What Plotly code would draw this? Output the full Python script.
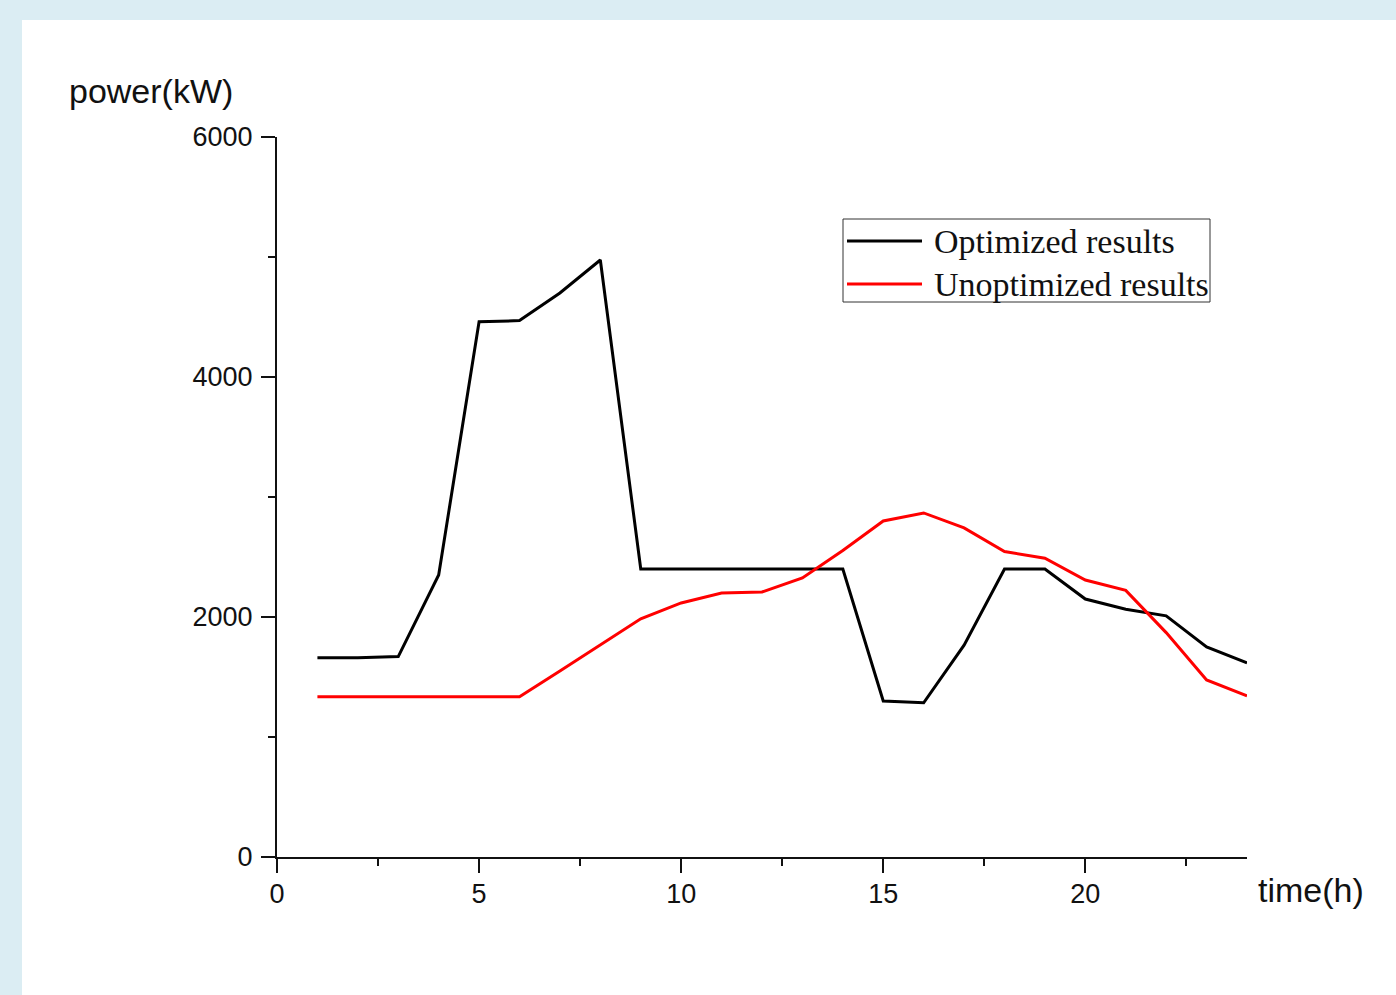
import plotly.graph_objects as go

hours = list(range(1, 25))
optimized = [1660, 1660, 1670, 2350, 4460, 4470, 4700, 4975, 2400, 2400, 2400, 2400,
             2400, 2400, 1300, 1285, 1765, 2400, 2400, 2150, 2065, 2010, 1750, 1617]
unoptimized = [1335, 1335, 1335, 1335, 1335, 1335, 1550, 1770, 1985, 2117, 2200, 2208,
               2325, 2555, 2800, 2867, 2742, 2545, 2490, 2308, 2222, 1870, 1475, 1342]

x_ticks = [0, 5, 10, 15, 20]
y_ticks = [0, 2000, 4000, 6000]
legend_names = ["Optimized results", "Unoptimized results"]
colors = ["#000000", "#ff0000"]

L, R, T, B = 277, 149, 137, 138
W, H = 1396, 995
pw, ph = W - L - R, H - T - B

def px(x):
    return (x - L) / pw

def py(y):
    return (H - B - y) / ph

fig = go.Figure()
for name, ys, c in zip(legend_names, [optimized, unoptimized], colors):
    fig.add_trace(go.Scatter(x=hours, y=ys, mode="lines", name=name,
                             line=dict(color=c, width=3), showlegend=False))

shapes = [
    dict(type="rect", xref="paper", yref="paper", x0=px(22), x1=px(1400), y0=py(1000), y1=py(20),
         fillcolor="white", line=dict(width=0), layer="below"),
    dict(type="rect", xref="paper", yref="paper", x0=px(843), x1=px(1210), y0=py(302), y1=py(219),
         fillcolor="rgba(0,0,0,0)", line=dict(color="#333333", width=1)),
]
annotations = [
    dict(text="power(kW)", x=px(67), y=py(91), xref="paper", yref="paper", xanchor="left",
         yanchor="middle", showarrow=False, font=dict(family="Liberation Sans, Arial", size=34, color="#111")),
    dict(text="time(h)", x=px(1256), y=py(890), xref="paper", yref="paper", xanchor="left",
         yanchor="middle", showarrow=False, font=dict(family="Liberation Sans, Arial", size=34, color="#111")),
]
for i, (name, c) in enumerate(zip(legend_names, colors)):
    yy = py(241 + 43 * i)
    shapes.append(dict(type="line", xref="paper", yref="paper", x0=px(847), x1=px(922), y0=yy, y1=yy,
                       line=dict(color=c, width=3)))
    annotations.append(dict(text=name, x=px(932), y=yy, xref="paper", yref="paper", xanchor="left",
                            yanchor="middle", showarrow=False,
                            font=dict(family="Liberation Serif, Times New Roman", size=34, color="#111")))

fig.update_layout(
    width=W, height=H,
    margin=dict(l=L, r=R, t=T, b=B),
    paper_bgcolor="#dbedf3",
    plot_bgcolor="rgba(0,0,0,0)",
    shapes=shapes,
    annotations=annotations,
    showlegend=False,
    font=dict(family="Liberation Sans, Arial", size=27, color="#111"),
)
fig.update_xaxes(range=[0, 24], tickvals=x_ticks, ticks="outside", ticklen=14, tickwidth=2,
                 tickcolor="#111", showline=True, linecolor="#111", linewidth=2, showgrid=False,
                 zeroline=False, ticklabelstandoff=-2,
                 minor=dict(tickvals=[2.5, 7.5, 12.5, 17.5, 22.5], ticks="outside", ticklen=7,
                            tickwidth=2, tickcolor="#111"))
fig.update_yaxes(range=[0, 6000], tickvals=y_ticks, ticks="outside", ticklen=14, tickwidth=2,
                 tickcolor="#111", showline=True, linecolor="#111", linewidth=2, showgrid=False,
                 zeroline=False, ticklabelstandoff=3,
                 minor=dict(tickvals=[1000, 3000, 5000], ticks="outside", ticklen=7,
                            tickwidth=2, tickcolor="#111"))

fig.write_html("out.html", config={"displayModeBar": False},
               post_script="document.body.style.margin='0';")
